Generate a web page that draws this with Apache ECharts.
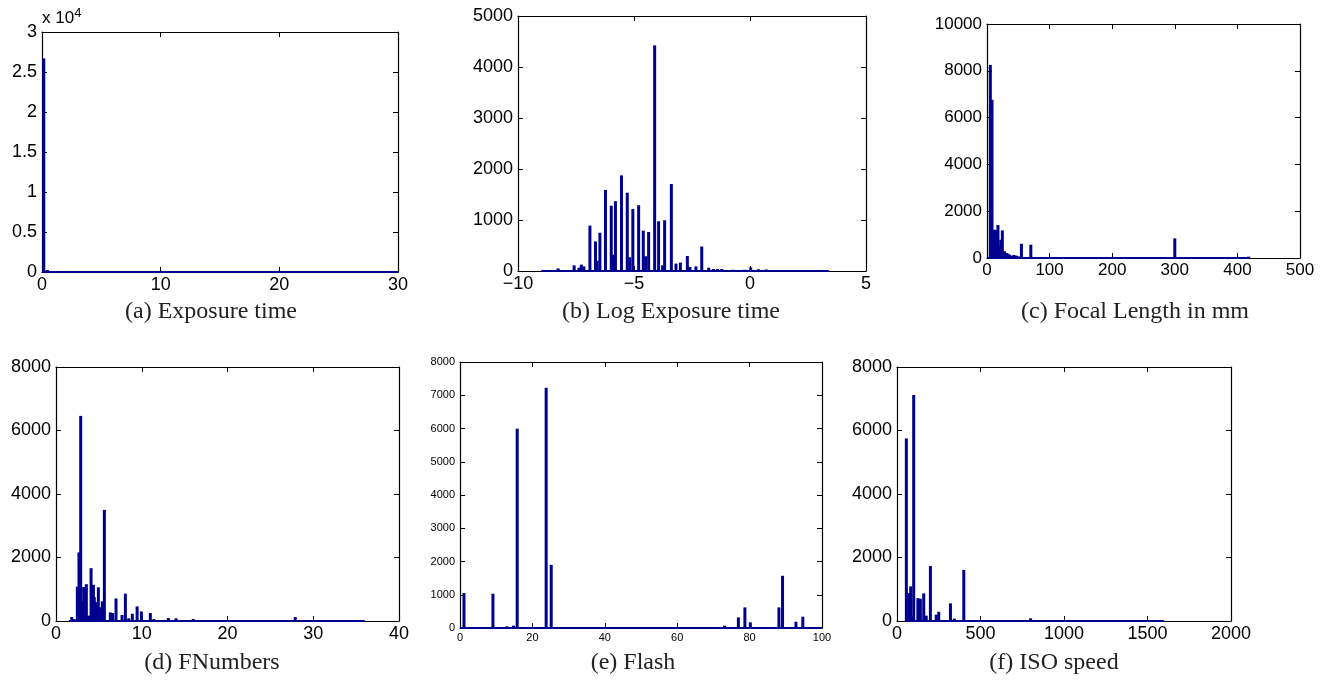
<!DOCTYPE html>
<html>
<head>
<meta charset="utf-8">
<script src="https://cdn.jsdelivr.net/npm/echarts@6/dist/echarts.min.js"></script>
<style>html,body{margin:0;padding:0;background:#fff}#c{width:1327px;height:681px}</style>
</head>
<body>
<div id="c"></div>
<script>
// ---- data (bin centre, count) ----
const captions = ['(a) Exposure time', '(b) Log Exposure time', '(c) Focal Length in mm',
                  '(d) FNumbers', '(e) Flash', '(f) ISO speed'];

const expX = [0.15, 0.45];
const expY = [26700, 250];
const expRange = [0, 30];

const logX = [-8.27, -7.58, -7.37, -7.27, -7.16, -6.9, -6.66, -6.59, -6.47, -6.23, -5.98, -5.9, -5.8, -5.54,
              -5.29, -5.18, -5.05, -4.8, -4.6, -4.5, -4.37, -4.11, -3.94, -3.77, -3.68, -3.39, -3.19, -3.0,
              -2.7, -2.59, -2.33, -2.08, -1.78, -1.58, -1.41, -1.22, -0.74, -0.25, 0.03, 0.36, 0.7];
const logY = [50, 110, 65, 125, 90, 890, 580, 200, 750, 1590, 1280, 320, 1370, 1875,
              1535, 270, 1215, 1290, 790, 290, 765, 4425, 975, 110, 995, 1705, 145, 165,
              295, 80, 90, 480, 65, 40, 40, 40, 25, 25, 70, 35, 30];
const logRange = [-9.0, 3.4];

const focX = [5.3, 8, 11, 13, 15, 17.5, 20, 22, 24.5, 28, 31, 33.5, 36, 39, 43, 47, 50, 55, 70, 300, 418];
const focY = [8250, 6760, 1210, 925, 1200, 1410, 500, 780, 1180, 285, 210, 185, 140, 100, 130, 100, 70, 610, 570, 840, 60];
const focRange = [0, 420];

const fnX = [1.83, 2.1, 2.49, 2.68, 2.88, 3.07, 3.23, 3.54, 3.81, 4.09, 4.36, 4.47, 4.7, 4.94, 5.17, 5.4, 5.64,
             6.34, 6.61, 7.0, 7.7, 8.09, 8.48, 8.9, 9.46, 9.96, 11.0, 11.4, 13.1, 14, 16, 17.9, 22, 27.9, 29, 35.8];
const fnY = [125, 60, 1080, 2160, 6460, 620, 1070, 1160, 170, 1665, 1140, 750, 600, 1060, 430, 620, 3500,
             270, 250, 710, 190, 860, 85, 230, 460, 300, 250, 60, 95, 85, 65, 30, 20, 125, 30, 20];
const fnRange = [1.5, 36];

const flX = [1.1, 9.1, 12.9, 14.8, 15.8, 23.8, 25.2, 73.1, 76.9, 78.7, 80.2, 88.1, 89.1, 92.8, 94.7];
const flY = [1050, 1030, 50, 70, 5995, 7225, 1900, 70, 320, 620, 170, 620, 1570, 190, 340];
const flRange = [0, 100];

const isoX = [56, 70, 82, 96, 100, 125, 140, 160, 175, 200, 235, 250, 320, 343, 400, 800];
const isoY = [5750, 880, 1090, 150, 7120, 720, 700, 870, 170, 1730, 200, 290, 555, 75, 1610, 85];
const isoRange = [50, 1600];

// ---- axes ----
const xTicks = [[0, 30, 10], [-10, 5, 5], [0, 500, 100], [0, 40, 10], [0, 100, 20], [0, 2000, 500]];
const yTicks = [[0, 30000, 5000], [0, 5000, 1000], [0, 10000, 2000], [0, 8000, 2000], [0, 8000, 1000], [0, 8000, 2000]];

const panels = [
  {xs: expX, ys: expY, range: expRange},
  {xs: logX, ys: logY, range: logRange},
  {xs: focX, ys: focY, range: focRange},
  {xs: fnX, ys: fnY, range: fnRange},
  {xs: flX, ys: flY, range: flRange},
  {xs: isoX, ys: isoY, range: isoRange}
];

// layout
const grids = [
  {left: 42, top: 32, width: 356, height: 240},
  {left: 518, top: 16, width: 348, height: 255},
  {left: 987, top: 24, width: 313, height: 234},
  {left: 56, top: 367, width: 343, height: 254},
  {left: 460, top: 362, width: 362, height: 266},
  {left: 897, top: 367, width: 334, height: 254}
];
const fontSizes = [18, 18, 17, 18, 11, 18];
const capPos = [[211, 300], [671, 300], [1135, 300], [212, 651], [633, 651], [1054, 651]];

const BLUE = '#00008f';
const SANS = 'Liberation Sans, Arial, sans-serif';
const SERIF = 'Liberation Serif, Times New Roman, serif';

const xAxis = [], yAxis = [], series = [], title = [];
const minus = v => String(v).replace('-', '\u2212');
const plain = v => String(v);

panels.forEach((p, i) => {
  const [xmin, xmax, xint] = xTicks[i];
  const [ymin, ymax, yint] = yTicks[i];
  const fs = fontSizes[i];
  const line = {show: true, onZero: false, lineStyle: {color: '#000', width: 1.2}};
  const tick = {show: true, inside: true, length: 5, lineStyle: {color: '#000'}};
  xAxis.push({type: 'value', gridIndex: i, min: xmin, max: xmax, interval: xint, position: 'bottom',
    axisLine: line, axisTick: tick, splitLine: {show: false},
    axisLabel: {show: true, margin: 4, color: '#000', fontFamily: SANS, fontSize: fs, formatter: minus}});
  xAxis.push({type: 'value', gridIndex: i, min: xmin, max: xmax, interval: xint, position: 'top',
    axisLine: line, axisTick: tick, splitLine: {show: false}, axisLabel: {show: false}});
  const yMain = {type: 'value', gridIndex: i, min: ymin, max: ymax, interval: yint, position: 'left',
    axisLine: line, axisTick: tick, splitLine: {show: false},
    axisLabel: {show: true, margin: 5, color: '#000', fontFamily: SANS, fontSize: fs, formatter: plain}};
  if (i === 0) {
    yMain.axisLabel.formatter = v => String(v / 10000);
    yMain.name = '{b|x 10}{s|4}';
    yMain.nameLocation = 'end';
    yMain.nameGap = 2;
    yMain.nameTextStyle = {align: 'left', verticalAlign: 'bottom', color: '#000',
      rich: {b: {fontFamily: SANS, fontSize: 17, color: '#000'},
             s: {fontFamily: SANS, fontSize: 13, color: '#000', padding: [0, 0, 10, 0]}}};
  }
  yAxis.push(yMain);
  yAxis.push({type: 'value', gridIndex: i, min: ymin, max: ymax, interval: yint, position: 'right',
    axisLine: line, axisTick: tick, splitLine: {show: false}, axisLabel: {show: false}});

  series.push({type: 'line', xAxisIndex: 2 * i, yAxisIndex: 2 * i, clip: false, symbol: 'none',
    silent: true, z: 3, lineStyle: {color: BLUE, width: 2}, data: p.range.map(x => [x, 0])});
  series.push({type: 'bar', xAxisIndex: 2 * i, yAxisIndex: 2 * i, barWidth: 3, z: 4,
    itemStyle: {color: BLUE}, data: p.xs.map((x, k) => [x, p.ys[k]])});

  title.push({text: captions[i], left: capPos[i][0], top: capPos[i][1], textAlign: 'center', padding: 0,
    textStyle: {fontFamily: SERIF, fontSize: 24, fontWeight: 'normal', color: '#222'}});
});

const chart = echarts.init(document.getElementById('c'), null, {renderer: 'canvas'});
chart.setOption({
  animation: false,
  backgroundColor: '#fff',
  title: title,
  grid: grids.map(g => Object.assign({containLabel: false}, g)),
  xAxis: xAxis,
  yAxis: yAxis,
  series: series
});
</script>
</body>
</html>
